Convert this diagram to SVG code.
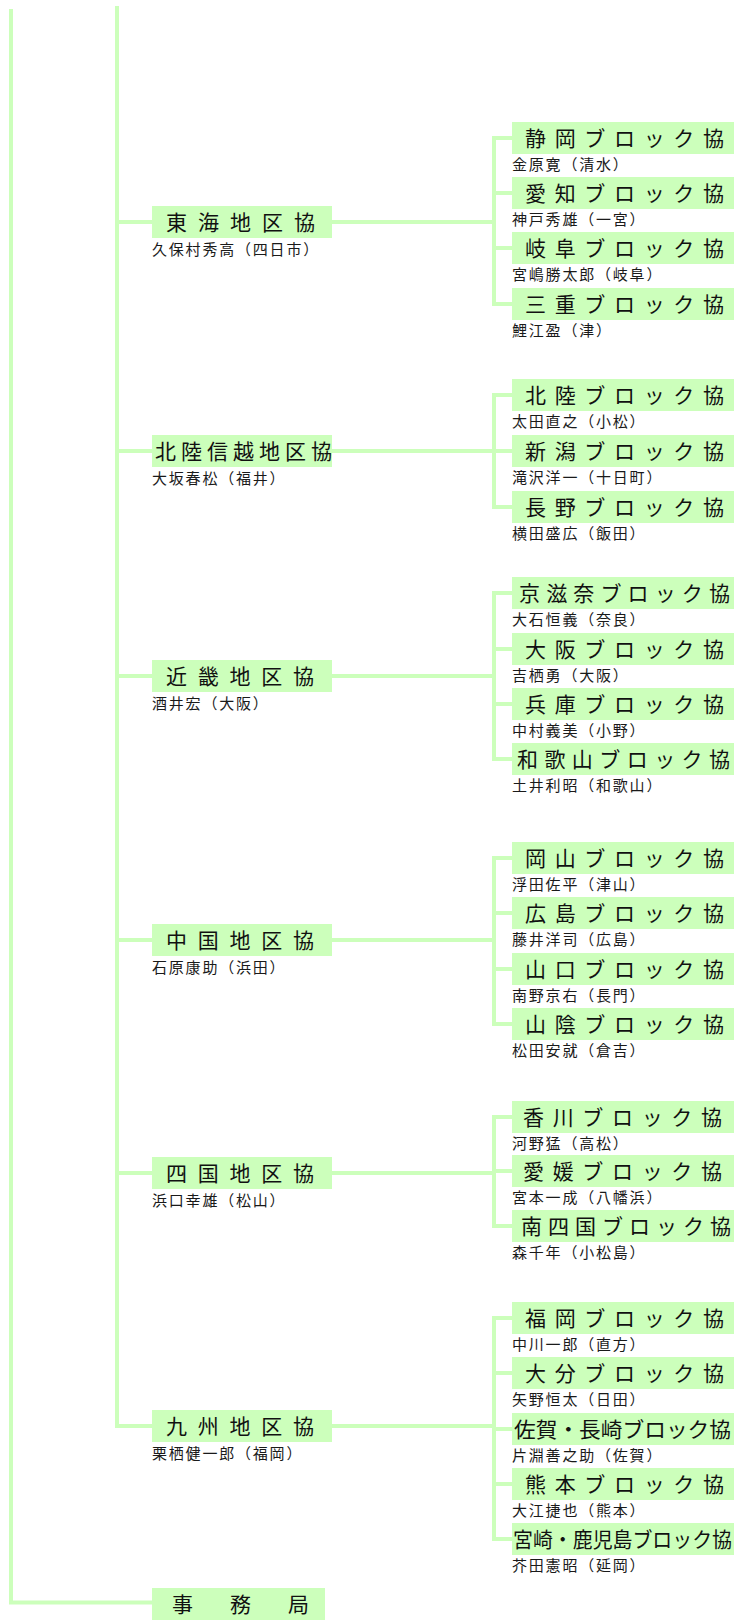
<svg xmlns="http://www.w3.org/2000/svg" width="744" height="1620" viewBox="0 0 744 1620">
<style>
.bx{fill:#ccffbb}
.ln{stroke:#ccffbb;stroke-width:4;fill:none}
.t{font-family:"Noto Sans CJK JP","Noto Sans",sans-serif;font-size:21px;fill:#111}
.n{font-family:"Noto Sans CJK JP","Noto Sans",sans-serif;font-size:15px;letter-spacing:1.8px;fill:#1a1a1a}
</style>
<rect width="744" height="1620" fill="#ffffff"/>
<g id="connectors" class="ln">
<path d="M11 9V1604.5M9 1602.5H152"/>
<path d="M117 6V1428"/>
<path d="M117 222H152M117 451H152M117 676H152M117 940H152M117 1173H152M117 1426H152"/>
<path d="M332 222H494M494 136V306M492 138H512M492 193H512M492 248H512M492 304H512"/>
<path d="M332 451H494M494 393V509M492 395H512M492 451H512M492 507H512"/>
<path d="M332 676H494M494 591V761M492 593H512M492 649H512M492 704H512M492 759H512"/>
<path d="M332 940H494M494 856V1026M492 858H512M492 913H512M492 969H512M492 1024H512"/>
<path d="M332 1173H494M494 1115V1228M492 1117H512M492 1171H512M492 1226H512"/>
<path d="M332 1426H494M494 1316V1541M492 1318H512M492 1373H512M492 1429H512M492 1484H512M492 1539H512"/>
</g>

<g id="tokai"><rect class="bx" x="152" y="206" width="180" height="32"/><text class="t" x="166" y="230" textLength="149" lengthAdjust="spacing">東海地区協</text><text class="n" x="152" y="255">久保村秀高（四日市）</text></g>
<g id="shizuoka"><rect class="bx" x="512" y="122" width="222" height="32"/><text class="t" x="525" y="146" textLength="199" lengthAdjust="spacing">静岡ブロック協</text><text class="n" x="512" y="170">金原寛（清水）</text></g>
<g id="aichi"><rect class="bx" x="512" y="177" width="222" height="32"/><text class="t" x="525" y="201" textLength="199" lengthAdjust="spacing">愛知ブロック協</text><text class="n" x="512" y="225">神戸秀雄（一宮）</text></g>
<g id="gifu"><rect class="bx" x="512" y="232" width="222" height="32"/><text class="t" x="525" y="256" textLength="199" lengthAdjust="spacing">岐阜ブロック協</text><text class="n" x="512" y="280">宮嶋勝太郎（岐阜）</text></g>
<g id="mie"><rect class="bx" x="512" y="288" width="222" height="32"/><text class="t" x="525" y="312" textLength="199" lengthAdjust="spacing">三重ブロック協</text><text class="n" x="512" y="336">鯉江盈（津）</text></g>

<g id="hokuriku-shinetsu"><rect class="bx" x="152" y="435" width="180" height="32"/><text class="t" x="155" y="459" textLength="177" lengthAdjust="spacing">北陸信越地区協</text><text class="n" x="152" y="484">大坂春松（福井）</text></g>
<g id="hokuriku"><rect class="bx" x="512" y="379" width="222" height="32"/><text class="t" x="525" y="403" textLength="199" lengthAdjust="spacing">北陸ブロック協</text><text class="n" x="512" y="427">太田直之（小松）</text></g>
<g id="niigata"><rect class="bx" x="512" y="435" width="222" height="32"/><text class="t" x="525" y="459" textLength="199" lengthAdjust="spacing">新潟ブロック協</text><text class="n" x="512" y="483">滝沢洋一（十日町）</text></g>
<g id="nagano"><rect class="bx" x="512" y="491" width="222" height="32"/><text class="t" x="525" y="515" textLength="199" lengthAdjust="spacing">長野ブロック協</text><text class="n" x="512" y="539">横田盛広（飯田）</text></g>

<g id="kinki"><rect class="bx" x="152" y="660" width="180" height="32"/><text class="t" x="166" y="684" textLength="148" lengthAdjust="spacing">近畿地区協</text><text class="n" x="152" y="709">酒井宏（大阪）</text></g>
<g id="keijina"><rect class="bx" x="512" y="577" width="222" height="32"/><text class="t" x="519" y="601" textLength="211" lengthAdjust="spacing">京滋奈ブロック協</text><text class="n" x="512" y="625">大石恒義（奈良）</text></g>
<g id="osaka"><rect class="bx" x="512" y="633" width="222" height="32"/><text class="t" x="525" y="657" textLength="199" lengthAdjust="spacing">大阪ブロック協</text><text class="n" x="512" y="681">吉栖勇（大阪）</text></g>
<g id="hyogo"><rect class="bx" x="512" y="688" width="222" height="32"/><text class="t" x="525" y="712" textLength="199" lengthAdjust="spacing">兵庫ブロック協</text><text class="n" x="512" y="736">中村義美（小野）</text></g>
<g id="wakayama"><rect class="bx" x="512" y="743" width="222" height="32"/><text class="t" x="517" y="767" textLength="213" lengthAdjust="spacing">和歌山ブロック協</text><text class="n" x="512" y="791">土井利昭（和歌山）</text></g>

<g id="chugoku"><rect class="bx" x="152" y="924" width="180" height="32"/><text class="t" x="166" y="948" textLength="148" lengthAdjust="spacing">中国地区協</text><text class="n" x="152" y="973">石原康助（浜田）</text></g>
<g id="okayama"><rect class="bx" x="512" y="842" width="222" height="32"/><text class="t" x="525" y="866" textLength="199" lengthAdjust="spacing">岡山ブロック協</text><text class="n" x="512" y="890">浮田佐平（津山）</text></g>
<g id="hiroshima"><rect class="bx" x="512" y="897" width="222" height="32"/><text class="t" x="525" y="921" textLength="199" lengthAdjust="spacing">広島ブロック協</text><text class="n" x="512" y="945">藤井洋司（広島）</text></g>
<g id="yamaguchi"><rect class="bx" x="512" y="953" width="222" height="32"/><text class="t" x="525" y="977" textLength="199" lengthAdjust="spacing">山口ブロック協</text><text class="n" x="512" y="1001">南野京右（長門）</text></g>
<g id="sanin"><rect class="bx" x="512" y="1008" width="222" height="32"/><text class="t" x="525" y="1032" textLength="199" lengthAdjust="spacing">山陰ブロック協</text><text class="n" x="512" y="1056">松田安就（倉吉）</text></g>

<g id="shikoku"><rect class="bx" x="152" y="1157" width="180" height="32"/><text class="t" x="166" y="1181" textLength="148" lengthAdjust="spacing">四国地区協</text><text class="n" x="152" y="1206">浜口幸雄（松山）</text></g>
<g id="kagawa"><rect class="bx" x="512" y="1101" width="222" height="32"/><text class="t" x="523" y="1125" textLength="199" lengthAdjust="spacing">香川ブロック協</text><text class="n" x="512" y="1149">河野猛（高松）</text></g>
<g id="ehime"><rect class="bx" x="512" y="1155" width="222" height="32"/><text class="t" x="523" y="1179" textLength="199" lengthAdjust="spacing">愛媛ブロック協</text><text class="n" x="512" y="1203">宮本一成（八幡浜）</text></g>
<g id="minamishikoku"><rect class="bx" x="512" y="1210" width="222" height="32"/><text class="t" x="521" y="1234" textLength="210" lengthAdjust="spacing">南四国ブロック協</text><text class="n" x="512" y="1258">森千年（小松島）</text></g>

<g id="kyushu"><rect class="bx" x="152" y="1410" width="180" height="32"/><text class="t" x="166" y="1434" textLength="148" lengthAdjust="spacing">九州地区協</text><text class="n" x="152" y="1459">栗栖健一郎（福岡）</text></g>
<g id="fukuoka"><rect class="bx" x="512" y="1302" width="222" height="32"/><text class="t" x="525" y="1326" textLength="199" lengthAdjust="spacing">福岡ブロック協</text><text class="n" x="512" y="1350">中川一郎（直方）</text></g>
<g id="oita"><rect class="bx" x="512" y="1357" width="222" height="32"/><text class="t" x="525" y="1381" textLength="199" lengthAdjust="spacing">大分ブロック協</text><text class="n" x="512" y="1405">矢野恒太（日田）</text></g>
<g id="saga-nagasaki"><rect class="bx" x="512" y="1413" width="222" height="32"/><text class="t" x="514" y="1437" textLength="217" lengthAdjust="spacingAndGlyphs">佐賀・長崎ブロック協</text><text class="n" x="512" y="1461">片淵善之助（佐賀）</text></g>
<g id="kumamoto"><rect class="bx" x="512" y="1468" width="222" height="32"/><text class="t" x="525" y="1492" textLength="199" lengthAdjust="spacing">熊本ブロック協</text><text class="n" x="512" y="1516">大江捷也（熊本）</text></g>
<g id="miyazaki-kagoshima"><rect class="bx" x="512" y="1523" width="222" height="32"/><text class="t" x="513" y="1547" textLength="219" lengthAdjust="spacingAndGlyphs">宮崎・鹿児島ブロック協</text><text class="n" x="512" y="1571">芥田憲昭（延岡）</text></g>

<g id="jimukyoku"><rect class="bx" x="152" y="1588" width="173" height="32"/><text class="t" x="172" y="1612" textLength="137" lengthAdjust="spacing">事務局</text></g>
</svg>
